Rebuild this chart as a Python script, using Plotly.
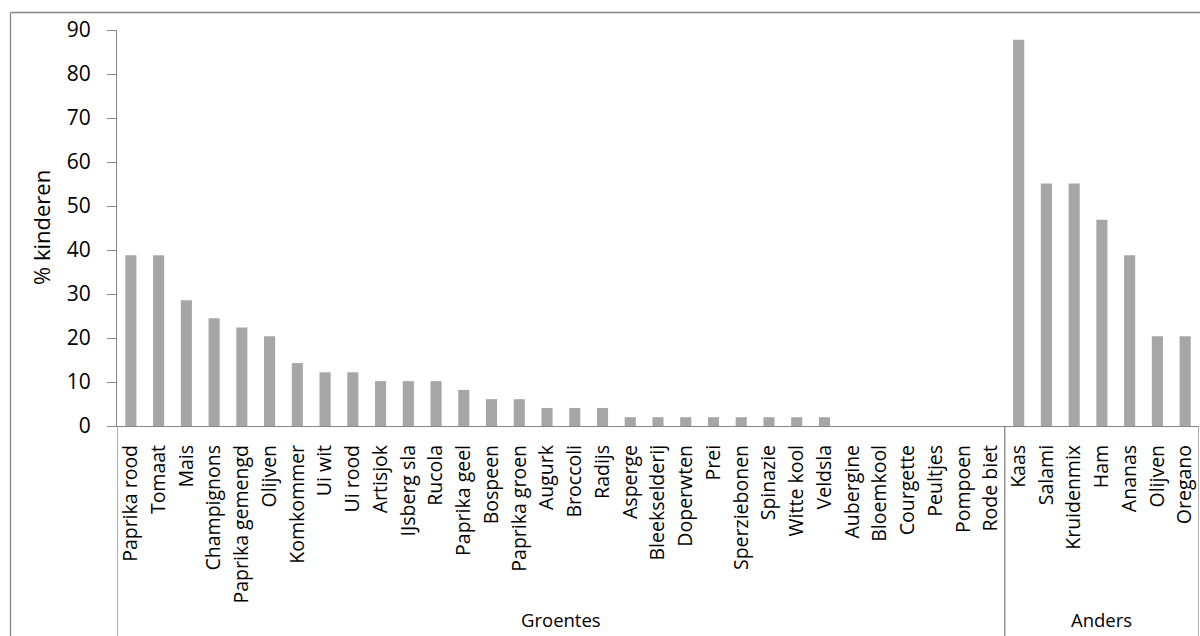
import plotly.graph_objects as go

# Ingredient categories and the share of children (%) choosing each one
groentes = [
    "Paprika rood", "Tomaat", "Mais", "Champignons", "Paprika gemengd", "Olijven",
    "Komkommer", "Ui wit", "Ui rood", "Artisjok", "IJsberg sla", "Rucola",
    "Paprika geel", "Bospeen", "Paprika groen", "Augurk", "Broccoli", "Radijs",
    "Asperge", "Bleekselderij", "Doperwten", "Prei", "Sperziebonen", "Spinazie",
    "Witte kool", "Veldsla", "Aubergine", "Bloemkool", "Courgette", "Peultjes",
    "Pompoen", "Rode biet",
]
groentes_pct = [
    38.8, 38.8, 28.6, 24.5, 22.4, 20.4,
    14.3, 12.2, 12.2, 10.2, 10.2, 10.2,
    8.2, 6.1, 6.1, 4.1, 4.1, 4.1,
    2.0, 2.0, 2.0, 2.0, 2.0, 2.0,
    2.0, 2.0, 0, 0, 0, 0,
    0, 0,
]
anders = ["Kaas", "Salami", "Kruidenmix", "Ham", "Ananas", "Olijven", "Oregano"]
anders_pct = [87.8, 55.1, 55.1, 46.9, 38.8, 20.4, 20.4]

group_names = ["Groentes", "Anders"]
y_ticks = list(range(0, 91, 10))

labels = groentes + anders
values = groentes_pct + anders_pct
xpos = list(range(len(labels)))

AXIS = "#868686"
BAR = "#A6A6A6"
FONT = "Open Sans"

fig = go.Figure(
    go.Bar(x=xpos, y=values, marker=dict(color=BAR, line=dict(width=0)),
           hoverinfo="x+y")
)

W, H = 1200, 636
ML, MR, MT, MB = 117, 1, 30, 210
plot_w = W - ML - MR
plot_h = H - MT - MB

def px_to_paper_x(px):
    return (px - ML) / plot_w

def px_to_paper_y(py):
    return (H - MB - py) / plot_h

fig.update_layout(
    width=W, height=H,
    margin=dict(l=ML, r=MR, t=MT, b=MB),
    paper_bgcolor="white", plot_bgcolor="white",
    bargap=0.6, showlegend=False,
    font=dict(family=FONT, color="black"),
)

fig.update_xaxes(
    range=[-0.5, len(labels) - 0.5],
    tickmode="array", tickvals=xpos, ticktext=labels,
    tickangle=-90, tickfont=dict(size=19.5, family=FONT),
    showline=True, linecolor=AXIS, linewidth=1.3,
    ticks="", showgrid=False, zeroline=False,
    ticklabelstandoff=10,
)
fig.update_yaxes(
    range=[0, 90], tickmode="array", tickvals=y_ticks,
    tickfont=dict(size=21, family=FONT),
    showline=True, linecolor=AXIS, linewidth=1.3,
    ticks="outside", ticklen=9, tickcolor=AXIS, tickwidth=1.3,
    showgrid=False, zeroline=False,
    ticklabelstandoff=12,
)

shapes = []
annotations = []

# Group dividers below the category axis and centred group labels
bottom = px_to_paper_y(H + 5)
sizes = [len(groentes), len(anders)]
start = -0.5
edges = [start]
for name, n in zip(group_names, sizes):
    end = start + n
    edges.append(end)
    annotations.append(dict(
        x=(start + end) / 2, xref="x", y=px_to_paper_y(619), yref="paper",
        text=name, showarrow=False, font=dict(size=18.5, family=FONT),
        xanchor="center", yanchor="middle",
    ))
    start = end
for e in edges:
    shapes.append(dict(type="line", xref="x", yref="paper",
                       x0=e, x1=e, y0=0, y1=bottom,
                       line=dict(color=AXIS, width=1.3)))

# Chart frame (left and top edges)
fx, fy = px_to_paper_x(10.5), px_to_paper_y(12.5)
shapes.append(dict(type="line", xref="paper", yref="paper",
                   x0=fx, x1=fx, y0=fy, y1=bottom,
                   line=dict(color=AXIS, width=1.3)))
shapes.append(dict(type="line", xref="paper", yref="paper",
                   x0=fx, x1=px_to_paper_x(W + 5), y0=fy, y1=fy,
                   line=dict(color=AXIS, width=1.3)))

# Y-axis title
annotations.append(dict(
    x=px_to_paper_x(41), xref="paper", y=0.5, yref="paper",
    text="% kinderen", textangle=-90, showarrow=False,
    font=dict(size=22, family=FONT), xanchor="center", yanchor="middle",
))

fig.update_layout(shapes=shapes, annotations=annotations)

fig.write_html("out.html")
